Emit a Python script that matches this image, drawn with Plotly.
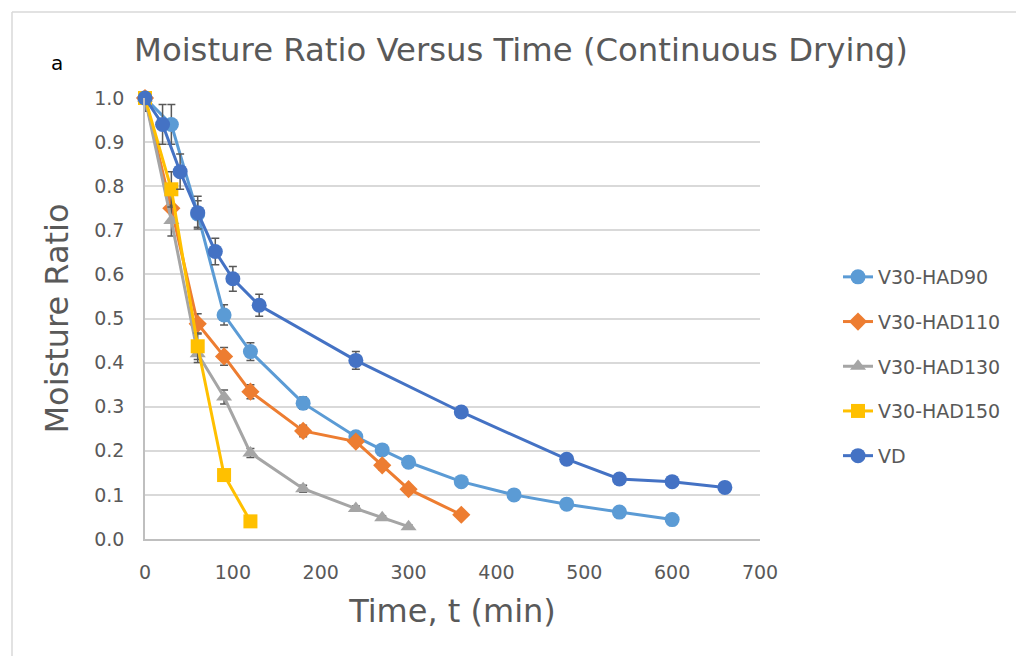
import plotly.graph_objects as go

# ---- data ----
t_had90 = [0, 30, 60, 90, 120, 180, 240, 270, 300, 360, 420, 480, 540, 600]
mr_had90 = [1.0, 0.94, 0.737, 0.508, 0.425, 0.308, 0.232, 0.202, 0.174, 0.13, 0.10, 0.079, 0.061, 0.044]
err_had90 = [0, 0.045, 0.03, 0.023, 0.02, 0.014, 0.01, 0.008, 0.006, 0.005, 0, 0, 0, 0]

t_had110 = [0, 30, 60, 90, 120, 180, 240, 270, 300, 360]
mr_had110 = [1.0, 0.75, 0.488, 0.414, 0.334, 0.245, 0.221, 0.167, 0.113, 0.055]
err_had110 = [0, 0.03, 0.023, 0.02, 0.016, 0.013, 0.01, 0.01, 0.008, 0]

t_had130 = [0, 30, 60, 90, 120, 180, 240, 270, 300]
mr_had130 = [1.0, 0.722, 0.42, 0.322, 0.195, 0.114, 0.069, 0.048, 0.028]
err_had130 = [0.03, 0.035, 0.02, 0.016, 0.01, 0.008, 0.006, 0.005, 0.004]

t_had150 = [0, 30, 60, 90, 120]
mr_had150 = [1.0, 0.793, 0.437, 0.145, 0.04]
err_had150 = [0, 0.04, 0.03, 0, 0]

t_vd = [0, 20, 40, 60, 80, 100, 130, 240, 360, 480, 540, 600, 660]
mr_vd = [1.0, 0.94, 0.833, 0.74, 0.652, 0.59, 0.53, 0.405, 0.288, 0.181, 0.136, 0.13, 0.117]
err_vd = [0, 0.045, 0.04, 0.037, 0.03, 0.028, 0.025, 0.02, 0.01, 0, 0, 0, 0]

x_ticks = [0, 100, 200, 300, 400, 500, 600, 700]
y_ticks = [0.0, 0.1, 0.2, 0.3, 0.4, 0.5, 0.6, 0.7, 0.8, 0.9, 1.0]

series = [
    ("V30-HAD90", t_had90, mr_had90, err_had90, "#5B9BD5", "circle", 15),
    ("V30-HAD110", t_had110, mr_had110, err_had110, "#ED7D31", "diamond", 14),
    ("V30-HAD130", t_had130, mr_had130, err_had130, "#A5A5A5", "triangle-up", 14),
    ("V30-HAD150", t_had150, mr_had150, err_had150, "#FFC000", "square", 14),
    ("VD", t_vd, mr_vd, err_vd, "#4472C4", "circle", 15),
]

FONT = "DejaVu Sans"
TXT = "#595959"
OFF = 8  # page body margin offset

fig = go.Figure()
for name, x, y, e, col, sym, sz in series:
    fig.add_trace(go.Scatter(
        x=x, y=y, name=name, mode="lines+markers",
        line=dict(color=col, width=3),
        marker=dict(color=col, symbol=sym, size=sz, line=dict(width=0)),
        error_y=dict(type="data", array=e, visible=True, color="#595959", thickness=1.5, width=4),
        cliponaxis=False, legendgroup=name,
    ))

# plot area in screen pixels: x 145..760, y 98..539
L, T = 145 - OFF, 98 - OFF
PW, PH = 615, 441
R = 1024 - L - PW
B = 656 - T - PH


def px(xs):
    return (xs - OFF - L) / PW


def py(ys):
    return (T + PH - (ys - OFF)) / PH


fig.update_layout(
    width=1024, height=656,
    margin=dict(l=L, r=R, t=T, b=B),
    paper_bgcolor="white", plot_bgcolor="white",
    font=dict(family=FONT, color=TXT, size=19),
    title=dict(text="Moisture Ratio Versus Time (Continuous Drying)",
               font=dict(family=FONT, size=32.3, color=TXT),
               x=(521 - OFF) / 1024, xref="container", xanchor="center",
               y=1 - (50 - OFF) / 656, yanchor="middle"),
    legend=dict(x=px(838), xanchor="left", y=py(258), yanchor="top",
                font=dict(family=FONT, size=19, color=TXT),
                tracegroupgap=17, bgcolor="rgba(0,0,0,0)"),
    showlegend=True,
)
fig.update_xaxes(range=[0, 700], tickvals=x_ticks, ticktext=[str(v) for v in x_ticks],
                 showgrid=False, zeroline=False, showline=True, linecolor="#BFBFBF", linewidth=1.5,
                 ticks="", tickfont=dict(size=19, color=TXT), ticklabelstandoff=15,
                 title=dict(text="Time, t (min)", font=dict(size=32, color=TXT), standoff=18))
fig.update_yaxes(range=[0, 1.0], tickvals=y_ticks, ticktext=[f"{v:.1f}" for v in y_ticks],
                 showgrid=True, gridcolor="#D9D9D9", gridwidth=1.5, zeroline=False,
                 showline=True, linecolor="#BFBFBF", linewidth=1.5,
                 ticks="", tickfont=dict(size=19, color=TXT), ticklabelstandoff=15,
                 title=dict(text="Moisture Ratio", font=dict(size=32, color=TXT), standoff=16))

# outer chart frame
fig.add_shape(type="line", xref="paper", yref="paper", x0=px(12), x1=px(1040), y0=py(12), y1=py(12),
              line=dict(color="#D9D9D9", width=1.5))
fig.add_shape(type="line", xref="paper", yref="paper", x0=px(12), x1=px(12), y0=py(12), y1=py(680),
              line=dict(color="#D9D9D9", width=1.5))

fig.add_annotation(text="a", xref="paper", yref="paper", x=px(57), y=py(63),
                   showarrow=False, font=dict(family=FONT, size=20, color="black"),
                   xanchor="center", yanchor="middle")

fig.write_html("out.html")
